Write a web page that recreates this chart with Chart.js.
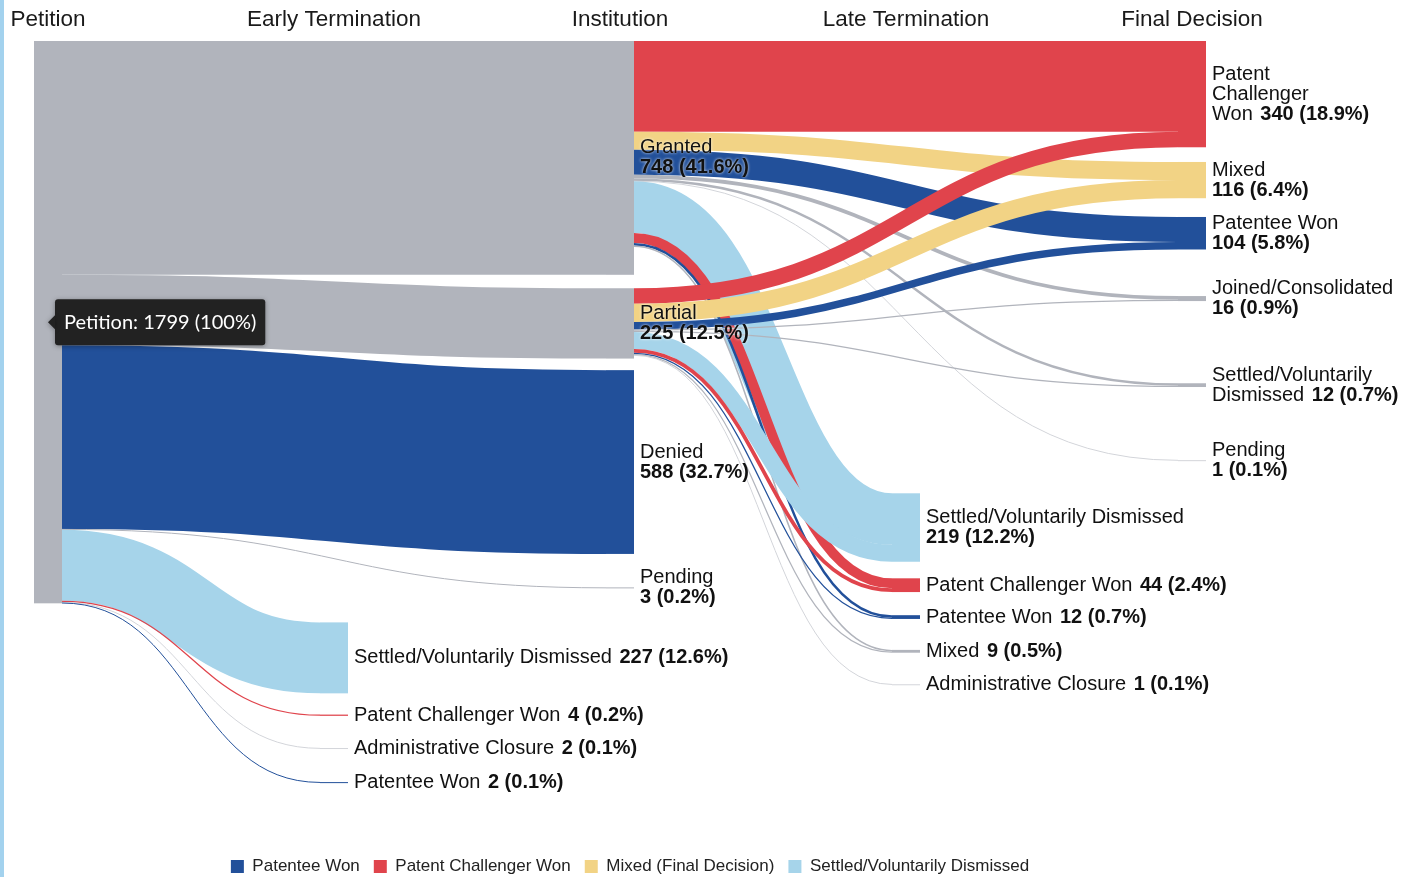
<!DOCTYPE html>
<html>
<head>
<meta charset="utf-8">
<title>Petition outcomes</title>
<style>
  html, body { margin: 0; padding: 0; background: #fff; }
  #wrap { position: relative; width: 1407px; height: 877px; }
  #edge { position: absolute; left: 0; top: 0; width: 4px; height: 877px; background: #a3d2ee; }
</style>
</head>
<body>
<div id="wrap">
  <canvas id="chart"></canvas>
  <div id="edge"></div>
</div>

<script src="https://cdn.jsdelivr.net/npm/chart.js"></script>
<script>
  // columns of the diagram
  const stages = ['Petition', 'Early Termination', 'Institution', 'Late Termination', 'Final Decision'];

  // nodes
  const nodeNames = [
    'Petition',
    'Settled/Voluntarily Dismissed', 'Patent Challenger Won', 'Administrative Closure', 'Patentee Won',
    'Granted', 'Partial', 'Denied', 'Pending',
    'Settled/Voluntarily Dismissed', 'Patent Challenger Won', 'Patentee Won', 'Mixed', 'Administrative Closure',
    'Patent Challenger Won', 'Mixed', 'Patentee Won', 'Joined/Consolidated', 'Settled/Voluntarily Dismissed', 'Pending'
  ];
  const nodeStage = [0, 1, 1, 1, 1, 2, 2, 2, 2, 3, 3, 3, 3, 3, 4, 4, 4, 4, 4, 4];

  // flows (index into nodeNames)
  const flowFrom  = [0, 0, 0, 0, 0, 0, 0, 0,
                     5, 5, 5, 5, 5, 5, 5, 5, 5, 5,
                     6, 6, 6, 6, 6, 6, 6, 6, 6, 6];
  const flowTo    = [5, 6, 7, 8, 1, 2, 3, 4,
                     14, 15, 16, 17, 18, 19, 9, 10, 11, 12,
                     14, 15, 16, 17, 18, 9, 10, 11, 12, 13];
  const flowValue = [748, 225, 588, 3, 227, 4, 2, 2,
                     290, 58, 80, 12, 8, 1, 165, 32, 8, 5,
                     50, 58, 24, 4, 4, 54, 12, 4, 4, 1];

  const totalPetitions = 1799;

  const legendLabels = ['Patentee Won', 'Patent Challenger Won', 'Mixed (Final Decision)', 'Settled/Voluntarily Dismissed'];

  // ---- styling / layout (kept apart from the data) ----
  const C = { gray: '#b1b4bc', light: '#d3d5da', blue: '#22509a', red: '#e0444c', yellow: '#f2d385', sky: '#a6d4ea' };
  const legendColors = [C.blue, C.red, C.yellow, C.sky];
  const nodeColor = [C.gray, C.sky, C.red, C.light, C.blue, C.gray, C.gray, C.blue, C.gray,
                     C.sky, C.red, C.blue, C.gray, C.light, C.red, C.yellow, C.blue, C.gray, C.gray, C.light];
  // vertical position of each node's top, in cases (y scale units)
  const nodeTop = [0, 1860, 2155, 2262, 2371, 0, 791, 1053, 1748,
                   1447, 1719, 1837, 1948, 2058, 0, 387, 563, 816, 1095, 1341];
  const labelTemplate = [null, '{n} {v}', '{n} {v}', '{n} {v}', '{n} {v}',
                         '{n}\n{v}', '{n}\n{v}', '{n}\n{v}', '{n}\n{v}',
                         '{n}\n{v}', '{n} {v}', '{n} {v}', '{n} {v}', '{n} {v}',
                         'Patent\nChallenger\nWon {v}', '{n}\n{v}', '{n}\n{v}', '{n}\n{v}',
                         'Settled/Voluntarily\nDismissed {v}', '{n}\n{v}'];

  const FONT = '"Liberation Sans", Arial, Helvetica, sans-serif';
  const NODE_W = 28;

  function pct(v) {
    const p = v / totalPetitions * 100;
    return p >= 99.95 ? '100' : p.toFixed(1);
  }

  function nodeValues() {
    const inS = nodeNames.map(() => 0), outS = nodeNames.map(() => 0);
    flowValue.forEach((v, i) => { outS[flowFrom[i]] += v; inS[flowTo[i]] += v; });
    return nodeNames.map((_, i) => Math.max(inS[i], outS[i]));
  }

  // offsets of each flow at its source and target node (d3-sankey style ordering)
  function flowOffsets() {
    const src = [], tgt = [];
    nodeNames.forEach((_, n) => {
      const outs = flowFrom.map((f, i) => i).filter(i => flowFrom[i] === n)
        .sort((a, b) => nodeTop[flowTo[a]] - nodeTop[flowTo[b]]);
      let acc = nodeTop[n];
      outs.forEach(i => { src[i] = acc; acc += flowValue[i]; });
      const ins = flowTo.map((f, i) => i).filter(i => flowTo[i] === n)
        .sort((a, b) => nodeTop[flowFrom[a]] - nodeTop[flowFrom[b]]);
      acc = nodeTop[n];
      ins.forEach(i => { tgt[i] = acc; acc += flowValue[i]; });
    });
    return { src, tgt };
  }

  function drawLabel(ctx, tpl, name, valueText, x, yc) {
    const lines = tpl.replace('{n}', name).split('\n');
    const lh = 20;
    let y = yc - (lines.length - 1) * lh / 2;
    lines.forEach(line => {
      const parts = line.split('{v}');
      ctx.font = '20px ' + FONT;
      ctx.fillText(parts[0], x, y);
      if (parts.length > 1) {
        const w = ctx.measureText(parts[0]).width;
        ctx.font = 'bold 20px ' + FONT;
        ctx.fillText(valueText, x + w + (parts[0] ? 2 : 0), y);
      }
      y += lh;
    });
  }

  const sankeyPlugin = {
    id: 'sankey',
    afterDatasetsDraw(chart) {
      const { ctx, scales: { x, y } } = chart;
      const vals = nodeValues();
      const off = flowOffsets();
      const unit = Math.abs(y.getPixelForValue(1) - y.getPixelForValue(0));

      ctx.save();
      // flows
      ctx.lineCap = 'butt';
      flowValue.forEach((v, i) => {
        const a = flowFrom[i], b = flowTo[i];
        const x0 = x.getPixelForValue(nodeStage[a]) + NODE_W / 2;
        const x1 = x.getPixelForValue(nodeStage[b]) - NODE_W / 2;
        const y0 = y.getPixelForValue(off.src[i] + v / 2);
        const y1 = y.getPixelForValue(off.tgt[i] + v / 2);
        const xm = (x0 + x1) / 2;
        ctx.beginPath();
        ctx.moveTo(x0, y0);
        ctx.bezierCurveTo(xm, y0, xm, y1, x1, y1);
        ctx.strokeStyle = nodeColor[b];
        ctx.lineWidth = Math.max(v * unit, 1);
        ctx.stroke();
      });

      // nodes
      nodeNames.forEach((_, n) => {
        const cx = x.getPixelForValue(nodeStage[n]);
        const t = y.getPixelForValue(nodeTop[n]);
        const h = Math.max(vals[n] * unit, 1);
        ctx.fillStyle = nodeColor[n];
        ctx.fillRect(cx - NODE_W / 2, t, NODE_W, h);
      });

      // labels
      ctx.textBaseline = 'middle';
      ctx.textAlign = 'left';
      ctx.fillStyle = '#111';
      ctx.shadowColor = 'rgba(255,255,255,0.9)';
      ctx.shadowBlur = 3;
      nodeNames.forEach((name, n) => {
        if (!labelTemplate[n]) return;
        const lx = x.getPixelForValue(nodeStage[n]) + NODE_W / 2 + 6;
        const yc = y.getPixelForValue(nodeTop[n] + vals[n] / 2);
        drawLabel(ctx, labelTemplate[n], name, vals[n] + ' (' + pct(vals[n]) + '%)', lx, yc);
      });
      ctx.restore();
    },
    afterDraw(chart) {
      // static tooltip on the Petition node
      const { ctx, scales: { x, y } } = chart;
      const vals = nodeValues();
      const ax = x.getPixelForValue(nodeStage[0]);
      const ay = y.getPixelForValue(nodeTop[0] + vals[0] / 2);
      const text = nodeNames[0] + ': ' + vals[0] + ' (' + pct(vals[0]) + '%)';
      ctx.save();
      ctx.font = '20px Lato, "Open Sans", sans-serif';
      const tw = ctx.measureText(text).width;
      const bx = ax + 7, bw = tw + 18, bh = 46, by = ay - bh / 2;
      ctx.shadowColor = 'rgba(0,0,0,0.35)';
      ctx.shadowBlur = 5;
      ctx.shadowOffsetY = 1;
      ctx.fillStyle = '#222222';
      ctx.beginPath();
      ctx.roundRect(bx, by, bw, bh, 3);
      ctx.fill();
      ctx.beginPath();
      ctx.moveTo(bx, ay - 7);
      ctx.lineTo(ax, ay);
      ctx.lineTo(bx, ay + 7);
      ctx.closePath();
      ctx.fill();
      ctx.shadowColor = 'transparent';
      ctx.fillStyle = '#ffffff';
      ctx.textBaseline = 'middle';
      ctx.fillText(text, bx + 9, ay);
      ctx.restore();
    }
  };

  new Chart(document.getElementById('chart'), {
    type: 'scatter',
    data: {
      datasets: legendLabels.map((label, i) => ({
        label: label,
        data: [],
        backgroundColor: legendColors[i],
        borderColor: legendColors[i],
        borderWidth: 0
      }))
    },
    options: {
      responsive: true,
      maintainAspectRatio: false,
      animation: false,
      events: [],
      layout: { padding: { top: -2, left: 48, right: 195, bottom: -8 } },
      scales: {
        x: {
          type: 'linear',
          position: 'top',
          min: 0,
          max: stages.length - 1 + 20 / 286,
          grid: { display: false, drawTicks: false },
          border: { display: false },
          afterBuildTicks: scale => { scale.ticks = stages.map((s, i) => ({ value: i })); },
          ticks: {
            autoSkip: false,
            maxRotation: 0,
            padding: 8,
            color: '#1a1a1a',
            font: { family: FONT, size: 22.5 },
            callback: v => stages[v]
          }
        },
        y: {
          type: 'linear',
          display: false,
          reverse: true,
          min: 0,
          max: 2569
        }
      },
      plugins: {
        tooltip: { enabled: false },
        legend: {
          position: 'bottom',
          fullSize: false,
          labels: {
            boxWidth: 13,
            boxHeight: 13,
            padding: 14,
            color: '#222',
            font: { family: FONT, size: 17 }
          }
        }
      }
    },
    plugins: [sankeyPlugin]
  });
</script>
</body>
</html>
